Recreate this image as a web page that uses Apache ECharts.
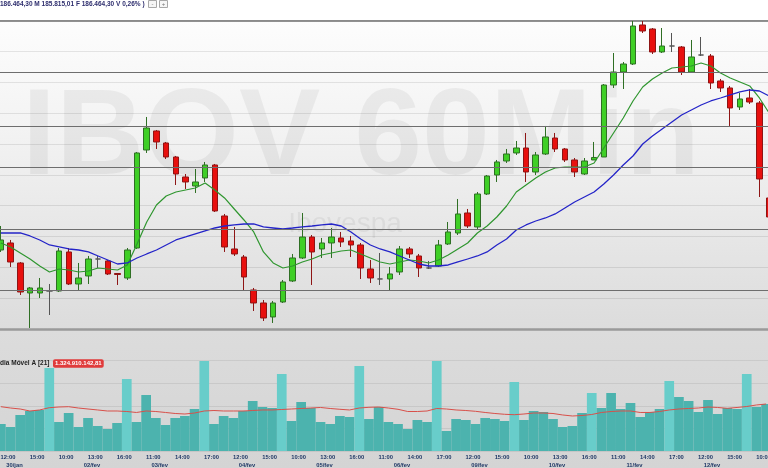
<!DOCTYPE html>
<html><head><meta charset="utf-8">
<script src="https://cdn.jsdelivr.net/npm/echarts@6/dist/echarts.min.js"></script>
<style>html,body{margin:0;padding:0;background:#fff;overflow:hidden;width:768px;height:468px;position:relative}
#c{position:absolute;left:-4px;top:0;width:778px;height:468px}</style>
</head><body><div id="c"></div>
<script>
// ---- data ----
const sessions = [['30/jan',11,17],['02/fev',10,17],['03/fev',10,17],['04/fev',10,17],['05/fev',10,17],
  ['06/fev',10,17],['09/fev',10,17],['10/fev',10,17],['11/fev',10,17],['12/fev',10,17],['13/fev',10,10]];
const opens = [183560,183788,183139,182165,182165,182230,182230,183496,182457,182717,
  183268,183204,182798,182652,183625,186805,187422,187032,186578,185929,
  185637,185897,186318,184664,183593,183333,182263,181841,181387,181873,
  182555,183301,183982,183593,183788,183950,183853,183723,182944,182620,
  182620,182847,183593,183366,182976,183041,183755,184112,184761,184307,
  185377,185994,186448,186708,186870,186091,186675,187194,186838,186481,
  186026,186481,186578,188914,189336,189595,190861,190731,189985,190179,
  190147,189336,189887,189855,189044,188817,188200,188492,188330,185248];
const closes = [183885,183171,182198,182328,182328,182230,183528,182457,182652,183268,
  183268,182782,182766,183560,186708,187519,187065,186578,186026,185767,
  185767,186318,184826,183658,183431,182684,181841,181354,181841,182522,
  183301,183982,183496,183788,183982,183820,183723,182976,182652,182620,
  182782,183593,183431,182976,182976,183723,184145,184729,184339,185377,
  185961,186416,186675,186870,186091,186643,187227,186838,186481,186091,
  186448,186562,188914,189336,189595,190828,190666,189985,190179,190179,
  189336,189823,189887,188979,188817,188168,188460,188362,185864,184631];
const lows = [183496,183009,182100,181030,182003,181451,182198,182425,182263,182457,
  182976,182749,182425,182587,183593,186708,186838,186513,185669,185540,
  185410,185767,184793,183496,183366,182230,181581,181257,181192,181841,
  182522,183268,182425,183301,183301,183658,183333,182620,182490,182425,
  182230,182749,183301,182684,182944,183009,183723,184047,184274,184242,
  185345,185767,186383,186643,185767,185994,186643,186740,186416,185929,
  185994,186481,186578,188817,188784,189563,190601,189920,189952,189985,
  189238,189303,189855,188784,188687,187584,188103,188298,185280,184534];
const highs = [184339,183885,183171,182360,182652,182457,183625,183625,183139,183366,
  183366,183236,182814,183625,186740,187876,187454,187065,186610,186026,
  186189,186416,186351,184729,184307,183398,182328,181938,181906,182587,
  183431,184761,184047,183950,184274,184145,184015,183788,183236,183463,
  183009,183690,183658,183431,183204,183885,184469,185215,184891,185442,
  185994,186481,186838,187097,187357,186740,187584,187357,186870,186545,
  186545,187065,188946,189952,189660,190991,190990,190763,190763,190601,
  190179,190374,190471,189920,189109,188882,188654,188784,188395,185313];
const maFast = [183788,183658,183463,183268,183041,182847,182944,182912,182847,182879,
  182976,182944,182912,183074,183755,184469,185021,185313,185442,185507,
  185572,185734,185507,185248,184891,184534,184145,183496,183139,182976,
  183041,183171,183268,183398,183463,183528,183560,183431,183301,183171,
  183106,183171,183236,183204,183139,183236,183398,183593,183788,184112,
  184339,184631,184988,185442,185669,185897,186091,186221,186253,186253,
  186253,186383,186870,187357,187843,188395,188849,189109,189303,189466,
  189498,189531,189628,189531,189303,189141,189011,188882,188492,188006];
const maSlow = [184112,184112,184112,184015,183885,183723,183658,183593,183560,183496,
  183366,183236,183106,183139,183301,183431,183560,183723,183885,183982,
  184080,184177,184274,184339,184372,184404,184404,184307,184274,184242,
  184274,184307,184339,184372,184404,184339,184145,183917,183723,183593,
  183496,183366,183236,183106,183041,183041,183074,183171,183268,183366,
  183496,183723,183917,184209,184372,184501,184599,184729,184923,185118,
  185280,185442,185702,185994,186318,186610,187000,187259,187486,187714,
  187941,188103,188265,188395,188492,188590,188687,188752,188719,188557];
const priceLevels = [189326,187568,186231,184242,182253];
const volume = [0.777,0.691,1.037,1.152,1.181,2.390,0.835,1.094,0.691,0.950,
  0.720,0.633,0.806,2.073,0.835,1.612,0.950,0.749,0.950,1.008,
  1.209,2.591,0.777,1.008,0.950,1.152,1.440,1.267,1.238,2.217,
  0.864,1.411,1.238,0.835,0.777,1.008,0.979,2.447,0.921,1.267,
  0.835,0.777,0.633,0.893,0.835,2.591,0.576,0.921,0.893,0.777,
  0.950,0.921,0.864,1.987,0.893,1.152,1.123,0.921,0.691,0.720,
  1.094,1.670,1.238,1.670,1.209,1.382,0.979,1.123,1.209,2.016,
  1.555,1.440,1.123,1.468,1.065,1.238,1.209,2.217,1.267,1.353];
const volumeMA = [1.276,1.238,1.209,1.152,1.181,1.247,1.267,1.276,1.238,1.209,
  1.181,1.152,1.152,1.137,1.109,1.152,1.137,1.109,1.080,1.065,
  1.094,1.152,1.166,1.152,1.152,1.152,1.166,1.181,1.181,1.195,
  1.209,1.224,1.238,1.253,1.224,1.201,1.181,1.238,1.258,1.267,
  1.238,1.201,1.137,1.137,1.152,1.224,1.209,1.181,1.166,1.143,
  1.109,1.080,1.057,1.045,1.065,1.094,1.094,1.080,1.037,1.008,
  1.022,1.051,1.109,1.137,1.152,1.152,1.109,1.109,1.137,1.181,
  1.209,1.224,1.238,1.267,1.253,1.229,1.253,1.281,1.325,1.353];
const dateLabelBars = [1,9,16,25,33,41,49,57,65,73];
const headerText = '186.464,30 M 185.815,01 F 186.464,30 V 0,26% )';
const volumeTitle = 'Média Móvel A [21]';
const volumeBadge = '1.324.910.142,81';
const watermark = 'IBOV 60Min';
const watermarkSub = 'Ibovespa';

// ---- build ----
const categories = [];
sessions.forEach(([d, a, b]) => { for (let h = a; h <= b; h++) categories.push(d + ' ' + h + ':00'); });

const candleData = opens.map((o, i) => {
  const item = { value: [o, closes[i], lows[i], highs[i]] };
  if (o === closes[i]) item.itemStyle = { color: '#555', color0: '#555', borderColor: '#555', borderColor0: '#555' };
  return item;
});
const volData = volume.map((v, i) => ({
  value: v,
  itemStyle: { color: categories[i].endsWith(' 16:00') ? '#68cdca' : '#4cb3ae' }
}));

const DX = 4; // container is shifted 4px left of the page
const labelFont = { fontFamily: 'Liberation Sans, Arial, sans-serif', fontSize: 5.8, fontWeight: 'bold', color: '#1f3866' };

const chart = echarts.init(document.getElementById('c'), null, { renderer: 'canvas', width: 778, height: 468 });
chart.setOption({
  animation: false,
  backgroundColor: '#ffffff',
  graphic: [
    { type: 'rect', z: -20, silent: true, shape: { x: 0, y: 20.7, width: 778, height: 448 },
      style: { fill: new echarts.graphic.LinearGradient(0, 0, 0, 1, [
        { offset: 0, color: '#fdfdfd' }, { offset: 0.24, color: '#f3f3f3' },
        { offset: 0.49, color: '#e6e6e6' }, { offset: 0.69, color: '#dcdcdc' }, { offset: 1, color: '#d4d4d4' }]) } },
    { type: 'text', z: -15, silent: true, x: 361 + DX, y: 201,
      style: { text: watermark, font: 'bold 122px "Liberation Sans", Arial, sans-serif', fill: 'rgba(0,0,0,0.05)', textAlign: 'center', textVerticalAlign: 'bottom' } },
    { type: 'text', z: -15, silent: true, x: 345 + DX, y: 224,
      style: { text: watermarkSub, font: '28px "Liberation Sans", Arial, sans-serif', fill: 'rgba(0,0,0,0.055)', textAlign: 'center', textVerticalAlign: 'middle' } },
    { type: 'text', z: 10, silent: true, x: 0 + DX, y: 4.6,
      style: { text: headerText, font: 'bold 6.5px "Liberation Sans", Arial, sans-serif', fill: '#2e2e6e', textVerticalAlign: 'middle' } },
    { type: 'rect', z: 10, silent: true, shape: { x: 148.5 + DX, y: 0.5, width: 8, height: 7 }, style: { fill: '#f6f6f6', stroke: '#a8a8a8', lineWidth: 1 } },
    { type: 'rect', z: 10, silent: true, shape: { x: 159.5 + DX, y: 0.5, width: 8, height: 7 }, style: { fill: '#f6f6f6', stroke: '#a8a8a8', lineWidth: 1 } },
    { type: 'text', z: 11, silent: true, x: 152.5 + DX, y: 4, style: { text: '-', font: '6px sans-serif', fill: '#777', textAlign: 'center', textVerticalAlign: 'middle' } },
    { type: 'text', z: 11, silent: true, x: 163.5 + DX, y: 4, style: { text: '+', font: '6px sans-serif', fill: '#777', textAlign: 'center', textVerticalAlign: 'middle' } },
    { type: 'text', z: 10, silent: true, x: -9 + DX, y: 363.5,
      style: { text: volumeTitle, font: 'bold 6.5px "Liberation Sans", Arial, sans-serif', fill: '#222', textVerticalAlign: 'middle' } },
    { type: 'text', z: 10, silent: true, x: 53 + DX, y: 363.5,
      style: { text: volumeBadge, font: 'bold 6px "Liberation Sans", Arial, sans-serif', fill: '#fff', textVerticalAlign: 'middle',
        backgroundColor: '#e03b3b', borderRadius: 2, padding: [1.5, 2, 1, 2] } }
  ],
  grid: [
    { left: 0, right: 0, top: 20.7, height: 308.2 },
    { left: 0, right: 0, top: 360.7, height: 90.3 }
  ],
  xAxis: [
    { type: 'category', gridIndex: 0, data: categories, position: 'bottom', boundaryGap: true,
      axisLine: { show: true, lineStyle: { color: '#9a9a9a', width: 2.5 } }, axisTick: { show: false }, axisLabel: { show: false }, splitLine: { show: false } },
    { type: 'category', gridIndex: 0, data: categories, position: 'top', boundaryGap: true,
      axisLine: { show: true, lineStyle: { color: '#6c6c6c', width: 1.5 } }, axisTick: { show: false }, axisLabel: { show: false }, splitLine: { show: false } },
    { type: 'category', gridIndex: 1, data: categories, position: 'bottom', boundaryGap: true,
      axisLine: { show: false }, axisTick: { show: false }, splitLine: { show: false },
      axisLabel: Object.assign({ show: true, margin: 3, padding: [0, 5, 0, 0], hideOverlap: false,
        interval: (i) => i % 3 === 1,
        formatter: (v) => { const t = v.split(' ')[1]; return t.length < 5 ? '0' + t : t; } }, labelFont) },
    { type: 'category', gridIndex: 1, data: categories, position: 'bottom', boundaryGap: true,
      axisLine: { show: false }, axisTick: { show: false }, splitLine: { show: false },
      axisLabel: Object.assign({ show: true, margin: 11, padding: [0, 0, 0, 8], hideOverlap: false,
        interval: (i) => dateLabelBars.indexOf(i) >= 0,
        formatter: (v) => v.split(' ')[0] }, labelFont) }
  ],
  yAxis: [
    { type: 'value', gridIndex: 0, min: 181000, max: 191000, interval: 1000,
      axisLine: { show: false }, axisTick: { show: false }, axisLabel: { show: false },
      splitLine: { show: true, lineStyle: { color: 'rgba(0,0,0,0.09)', width: 1 } } },
    { type: 'value', gridIndex: 1, min: 0, max: 2.6, interval: 0.65,
      axisLine: { show: false }, axisTick: { show: false }, axisLabel: { show: false },
      splitLine: { show: true, lineStyle: { color: 'rgba(0,0,0,0.07)', width: 1 } } }
  ],
  series: [
    { type: 'candlestick', name: 'IBOV', xAxisIndex: 0, yAxisIndex: 0, data: candleData, barWidth: 6, z: 3,
      itemStyle: { color: '#3fcf26', color0: '#e8100e', borderColor: '#2f6f24', borderColor0: '#8e1515', borderWidth: 1 },
      markLine: { silent: true, symbol: ['none', 'none'], label: { show: false }, animation: false,
        lineStyle: { color: '#6e6e6e', width: 1.1, type: 'solid' },
        data: priceLevels.map(v => ({ yAxis: v })) } },
    { type: 'line', name: 'MM curta', xAxisIndex: 0, yAxisIndex: 0, data: maFast, symbol: 'none', z: 4,
      lineStyle: { color: '#2f962f', width: 1.2 } },
    { type: 'line', name: 'MM longa', xAxisIndex: 0, yAxisIndex: 0, data: maSlow, symbol: 'none', z: 4,
      lineStyle: { color: '#2424c8', width: 1.3 } },
    { type: 'bar', name: 'Volume', xAxisIndex: 2, yAxisIndex: 1, data: volData, barCategoryGap: '0%', z: 2 },
    { type: 'line', name: 'Média Móvel A [21]', xAxisIndex: 2, yAxisIndex: 1, data: volumeMA, symbol: 'none', z: 4,
      lineStyle: { color: '#d8504a', width: 1 } }
  ]
});
</script></body></html>
